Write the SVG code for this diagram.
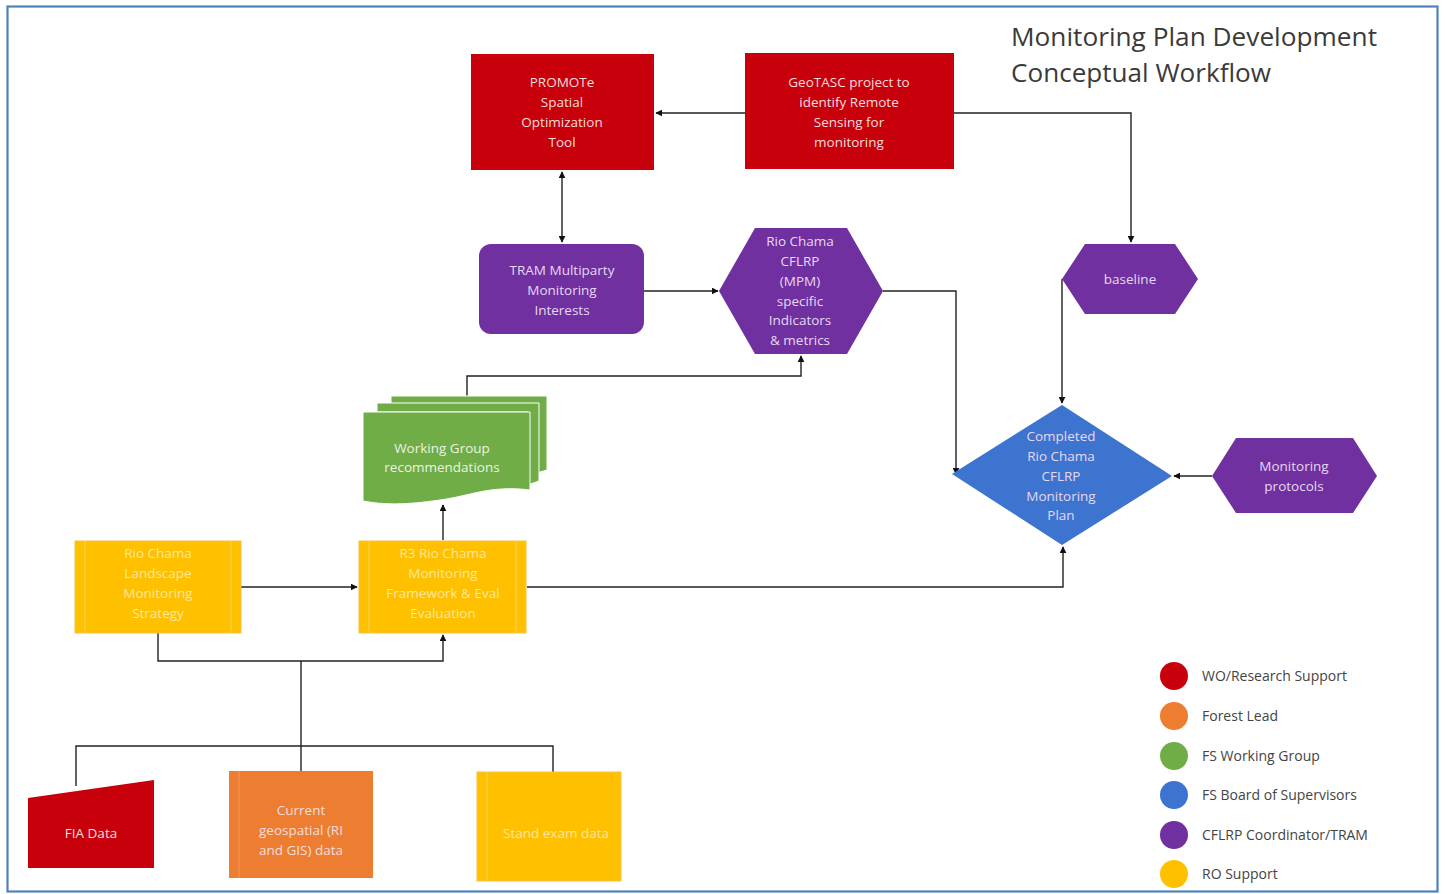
<svg xmlns="http://www.w3.org/2000/svg" width="1445" height="894" viewBox="0 0 1445 894">
<defs>
<marker id="arr" viewBox="0 0 10 10" refX="9" refY="5" markerWidth="7" markerHeight="7" orient="auto-start-reverse" markerUnits="userSpaceOnUse">
<path d="M0,0 L10,5 L0,10 z" fill="#111"/>
</marker>
<style>
.t{font-family:"Open Sans","Noto Sans",sans-serif;font-size:13.5px;text-anchor:middle;fill:#f6dede}
.tp{font-family:"Open Sans","Noto Sans",sans-serif;font-size:13.5px;text-anchor:middle;fill:#e6d8f2}
.ty{font-family:"Open Sans","Noto Sans",sans-serif;font-size:13.5px;text-anchor:middle;fill:#fde7a0}
.tw{font-family:"Open Sans","Noto Sans",sans-serif;font-size:13.5px;text-anchor:middle;fill:#eaf3e2}
.lg{font-family:"Open Sans","Noto Sans",sans-serif;font-size:14px;fill:#444}
.c{fill:none;stroke:#222;stroke-width:1.4}
.red{fill:#c8000b}
.pur{fill:#7030a0}
.yel{fill:#ffc000;stroke:#f5c342;stroke-width:1}
.yl{stroke:#f7cf50;stroke-width:1.2}
</style>
</defs>
<rect x="0" y="0" width="1445" height="894" fill="#fff"/>
<rect x="7.5" y="6.5" width="1430" height="885" fill="none" stroke="#4f81bd" stroke-width="2.2"/>
<g id="title" font-family="'Open Sans','Noto Sans',sans-serif" font-size="25" fill="#3a3a3a">
<text x="1011" y="46" textLength="366" lengthAdjust="spacingAndGlyphs">Monitoring Plan Development</text>
<text x="1011" y="82" textLength="260" lengthAdjust="spacingAndGlyphs">Conceptual Workflow</text>
</g>
<g id="connectors">
<path class="c" d="M745,113 H656" marker-end="url(#arr)"/>
<path class="c" d="M954,113 H1131 V242" marker-end="url(#arr)"/>
<path class="c" d="M562,172 V242" marker-start="url(#arr)" marker-end="url(#arr)"/>
<path class="c" d="M644,291 H718" marker-end="url(#arr)"/>
<path class="c" d="M883,291 H956 V474" marker-end="url(#arr)"/>
<path class="c" d="M1062,279 V403" marker-end="url(#arr)"/>
<path class="c" d="M1212,476 H1174" marker-end="url(#arr)"/>
<path class="c" d="M527,587 H1063 V547" marker-end="url(#arr)"/>
<path class="c" d="M467,396 V376 H801 V356" marker-end="url(#arr)"/>
<path class="c" d="M443,540 V505" marker-end="url(#arr)"/>
<path class="c" d="M241,587 H357" marker-end="url(#arr)"/>
<path class="c" d="M158,633 V661 H443 V635" marker-end="url(#arr)"/>
<path class="c" d="M301,661 V746"/>
<path class="c" d="M76,786 V746 H553 V773"/>
<path class="c" d="M301,746 V771"/>
</g>
<g id="promote">
<rect class="red" x="471" y="54" width="183" height="116"/>
<text class="t" x="562" y="87">PROMOTe</text>
<text class="t" x="562" y="107">Spatial</text>
<text class="t" x="562" y="127">Optimization</text>
<text class="t" x="562" y="147">Tool</text>
</g>
<g id="geotasc">
<rect class="red" x="745" y="53" width="209" height="116"/>
<text class="t" x="849" y="87">GeoTASC  project to</text>
<text class="t" x="849" y="107">identify Remote</text>
<text class="t" x="849" y="127">Sensing for</text>
<text class="t" x="849" y="147">monitoring</text>
</g>
<g id="tram">
<rect class="pur" x="479" y="244" width="165" height="90" rx="12"/>
<text class="tp" x="562" y="275">TRAM  Multiparty</text>
<text class="tp" x="562" y="295">Monitoring</text>
<text class="tp" x="562" y="315">Interests</text>
</g>
<g id="indicators">
<polygon class="pur" points="719,291 755,228 847,228 883,291 847,354 755,354"/>
<text class="tp" x="800" y="246">Rio Chama</text>
<text class="tp" x="800" y="266">CFLRP</text>
<text class="tp" x="800" y="286">(MPM)</text>
<text class="tp" x="800" y="306">specific</text>
<text class="tp" x="800" y="325">Indicators</text>
<text class="tp" x="800" y="345">&amp; metrics</text>
</g>
<g id="baseline">
<polygon class="pur" points="1062,279 1085,244 1175,244 1198,279 1175,314 1085,314"/>
<text class="tp" x="1130" y="284">baseline</text>
</g>
<g id="plan">
<polygon fill="#3d74cf" points="1062,405 1172,476 1062,545 952,474"/>
<text class="tp" x="1061" y="441" fill="#d6e2f6">Completed</text>
<text class="tp" x="1061" y="461">Rio Chama</text>
<text class="tp" x="1061" y="481">CFLRP</text>
<text class="tp" x="1061" y="501">Monitoring</text>
<text class="tp" x="1061" y="520">Plan</text>
</g>
<g id="protocols">
<polygon class="pur" points="1212,476 1236,438 1353,438 1377,476 1353,513 1236,513"/>
<text class="tp" x="1294" y="471">Monitoring</text>
<text class="tp" x="1294" y="491">protocols</text>
</g>
<g id="working-group">
<path fill="#70ad47" stroke="#fff" stroke-width="1" d="M391,396 H547 V470 Q540,472 533,474 V404 H391 z"/>
<path fill="#70ad47" stroke="#fff" stroke-width="1" d="M377,403 H539 V481 Q533,483 528,485 V412 H377 z"/>
<path fill="#70ad47" stroke="#fff" stroke-width="1" d="M363,412 H530 V490 C490,485 470,496 440,500 C405,505 385,505 363,501 z"/>
<text class="tw" x="442" y="453">Working Group</text>
<text class="tw" x="442" y="472">recommendations</text>
</g>
<g id="strategy">
<rect class="yel" x="75" y="541" width="166" height="92"/>
<line class="yl" x1="85" y1="541" x2="85" y2="633"/>
<line class="yl" x1="231" y1="541" x2="231" y2="633"/>
<text class="ty" x="158" y="558">Rio Chama</text>
<text class="ty" x="158" y="578">Landscape</text>
<text class="ty" x="158" y="598">Monitoring</text>
<text class="ty" x="158" y="618">Strategy</text>
</g>
<g id="framework">
<rect class="yel" x="359" y="541" width="167" height="92"/>
<line class="yl" x1="369" y1="541" x2="369" y2="633"/>
<line class="yl" x1="516" y1="541" x2="516" y2="633"/>
<text class="ty" x="443" y="558">R3 Rio Chama</text>
<text class="ty" x="443" y="578">Monitoring</text>
<text class="ty" x="443" y="598">Framework &amp; Eval</text>
<text class="ty" x="443" y="618">Evaluation</text>
</g>
<g id="fia">
<polygon class="red" points="28,798 154,780 154,868 28,868"/>
<text class="t" x="91" y="838">FIA Data</text>
</g>
<g id="geospatial">
<rect fill="#ed7d31" x="229" y="771" width="144" height="107"/>
<line x1="239" y1="771" x2="239" y2="878" stroke="#f29a5f" stroke-width="1"/>
<text class="t" x="301" y="815" fill="#fbe0cc">Current</text>
<text class="t" x="301" y="835" fill="#fbe0cc">geospatial (RI</text>
<text class="t" x="301" y="855" fill="#fbe0cc">and GIS) data</text>
</g>
<g id="inventory">
<rect class="yel" x="477" y="772" width="144" height="109"/>
<line class="yl" x1="487" y1="772" x2="487" y2="881"/>
<text class="ty" x="556" y="838">Stand exam data</text>
</g>
<g id="legend">
<circle cx="1174" cy="676" r="14" fill="#c8000b"/>
<circle cx="1174" cy="716" r="14" fill="#ed7d31"/>
<circle cx="1174" cy="756" r="14" fill="#70ad47"/>
<circle cx="1174" cy="795" r="14" fill="#3d74cf"/>
<circle cx="1174" cy="835" r="14" fill="#7030a0"/>
<circle cx="1174" cy="874" r="14" fill="#ffc000"/>
<text class="lg" x="1202" y="681">WO/Research Support</text>
<text class="lg" x="1202" y="721">Forest Lead</text>
<text class="lg" x="1202" y="761">FS Working Group</text>
<text class="lg" x="1202" y="800">FS Board of Supervisors</text>
<text class="lg" x="1202" y="840">CFLRP Coordinator/TRAM</text>
<text class="lg" x="1202" y="879">RO Support</text>
</g>
</svg>
